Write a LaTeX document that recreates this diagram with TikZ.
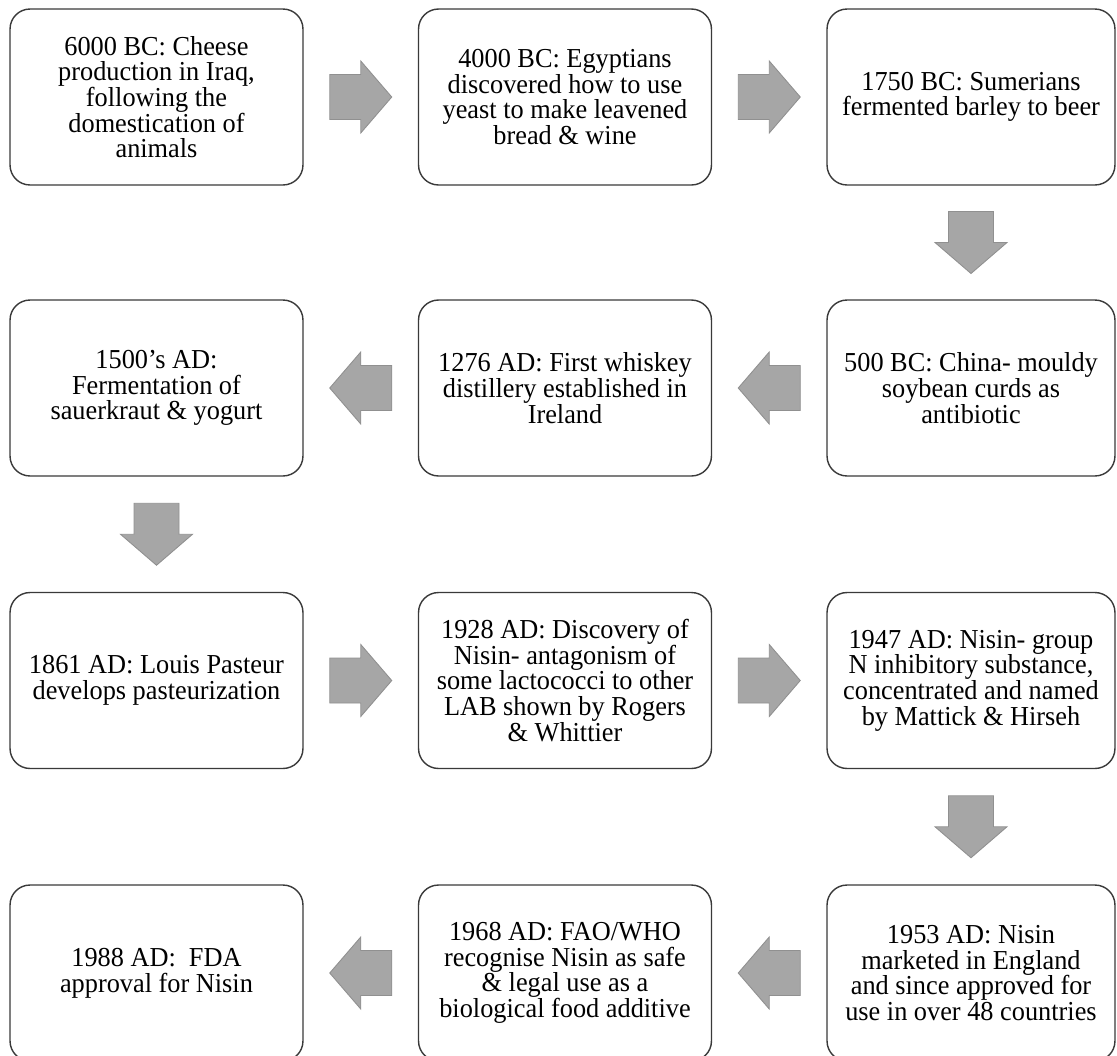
\documentclass[tikz,border=0pt]{standalone}
\usepackage{fontspec}
\setmainfont{Liberation Serif}[FakeStretch=0.96]
\usepackage{tikz}
\usetikzlibrary{calc}
\definecolor{cardedge}{HTML}{3A3A3A}
\definecolor{arrowgray}{HTML}{A6A6A6}
\definecolor{arrowedge}{HTML}{909090}
\lineskiplimit=-8pt
\tikzset{card/.style={rectangle,rounded corners=0.4cm,draw=cardedge,line width=0.8pt,
  fill=white,minimum width=5.86cm,minimum height=3.52cm,align=center,inner sep=2pt,
  font=\fontsize{15.6}{14.6}\selectfont},
  blk/.style={fill=arrowgray,draw=arrowedge,line width=0.5pt},
  blkarrow/.pic={\path[blk] (-31,-22.5) -- (0,-22.5) -- (0,-36) -- (31,0) -- (0,36)
    -- (0,22.5) -- (-31,22.5) -- cycle;}}

\begin{document}
\begin{tikzpicture}[x=0.02cm,y=-0.02cm]
 \useasboundingbox (0,0) rectangle (1117,1056);
 \clip (0,0) rectangle (1117,1056);
 % first row
 \node[card] (cheese) at (156.5,97) {6000 BC: Cheese\\production in Iraq,\\following the\\domestication of\\animals};
 \node[card] (yeast) at (565,97) {4000 BC: Egyptians\\discovered how to use\\yeast to make leavened\\bread \& wine};
 \node[card,minimum width=5.76cm] (beer) at (971,97) {1750 BC: Sumerians\\fermented barley to beer};
 % second row
 \node[card,minimum width=5.76cm] (soy) at (971,388) {500 BC: China- mouldy\\soybean curds as\\antibiotic};
 \node[card] (whiskey) at (565,388) {1276 AD: First whiskey\\distillery established in\\Ireland};
 \node[card] (kraut) at (156.5,388) {1500’s AD:\\Fermentation of\\sauerkraut \& yogurt};
 % third row
 \node[card] (pasteur) at (156.5,680.5) {1861 AD: Louis Pasteur\\develops pasteurization};
 \node[card] (disc) at (565,680.5) {1928 AD: Discovery of\\Nisin- antagonism of\\some lactococci to other\\LAB shown by Rogers\\\& Whittier};
 \node[card,minimum width=5.76cm] (named) at (971,680.5) {1947 AD: Nisin- group\\N inhibitory substance,\\concentrated and named\\by Mattick \& Hirseh};
 % fourth row
 \node[card,minimum width=5.76cm] (market) at (971,973) {1953 AD: Nisin\\marketed in England\\and since approved for\\use in over 48 countries};
 \node[card] (fao) at (565,973) {1968 AD: FAO/WHO\\recognise Nisin as safe\\\& legal use as a\\biological food additive};
 \node[card] (fda) at (156.5,973) {1988 AD:\ \ FDA\\approval for Nisin};
 % block arrows
 \pic at ($(cheese.east)!0.5!(yeast.west)$) {blkarrow};
 \pic at ($(yeast.east)!0.5!(beer.west)$) {blkarrow};
 \pic[rotate=-90] at ($(beer.south)!0.5!(soy.north)$) {blkarrow};
 \pic[rotate=180] at ($(soy.west)!0.5!(whiskey.east)$) {blkarrow};
 \pic[rotate=180] at ($(whiskey.west)!0.5!(kraut.east)$) {blkarrow};
 \pic[rotate=-90] at ($(kraut.south)!0.5!(pasteur.north)$) {blkarrow};
 \pic at ($(pasteur.east)!0.5!(disc.west)$) {blkarrow};
 \pic at ($(disc.east)!0.5!(named.west)$) {blkarrow};
 \pic[rotate=-90] at ($(named.south)!0.5!(market.north)$) {blkarrow};
 \pic[rotate=180] at ($(market.west)!0.5!(fao.east)$) {blkarrow};
 \pic[rotate=180] at ($(fao.west)!0.5!(fda.east)$) {blkarrow};
\end{tikzpicture}
\end{document}
